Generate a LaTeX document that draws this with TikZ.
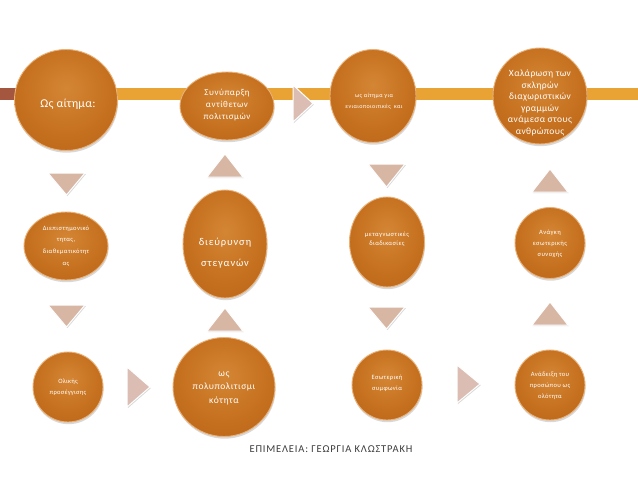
\documentclass[tikz,border=0pt]{standalone}
\usepackage{fontspec}
\setmainfont{Carlito}
\usetikzlibrary{shadows,shapes.geometric}
\definecolor{orbin}{HTML}{D48634}
\definecolor{orbmid}{HTML}{C5701E}
\definecolor{orbout}{HTML}{B66118}
\definecolor{orbedge}{HTML}{E9B27A}
\definecolor{bandcol}{HTML}{E9A234}
\definecolor{banddark}{HTML}{A4563E}
\definecolor{tricol}{HTML}{D8B6A4}
\definecolor{rtricol}{HTML}{DBBDB3}
\definecolor{foot}{HTML}{3C3C3C}
\pgfdeclareradialshading{orb}{\pgfpoint{0bp}{6bp}}{color(0bp)=(orbin); color(22bp)=(orbmid); color(44bp)=(orbout); color(50bp)=(orbout); color(100bp)=(orbout)}
\newcommand{\fsz}[3]{\fontsize{#1}{#2}\selectfont\addfontfeatures{LetterSpace=#3}}
\tikzset{
  orb/.style={ellipse, shading=orb, draw=orbedge, line width=0.9pt, inner sep=0pt,
    drop shadow={opacity=0.3, shadow xshift=0.6pt, shadow yshift=-2.2pt}},
  orbtext/.style={text=white, align=center, inner sep=0pt},
  tri/.style={fill=tricol, draw=white, line width=1pt,
    drop shadow={opacity=0.3, shadow xshift=0.8pt, shadow yshift=-1.2pt}},
  rtri/.style={fill=rtricol, draw=white, line width=1pt,
    drop shadow={opacity=0.3, shadow xshift=0.8pt, shadow yshift=-1.2pt}},
}
\begin{document}
\begin{tikzpicture}[x=1pt,y=-1pt]
\useasboundingbox (0,0) rectangle (638,479);
\fill[white] (0,0) rectangle (638,479);
% band
\fill[bandcol] (30,88) rectangle (638,100);
\fill[banddark] (0,88) rectangle (30,100);

% row 1
\node[orb, minimum width=103pt, minimum height=101pt] (c1) at (66,100) {};
\node[orbtext, font={\fsz{12}{14}{2}}] (c1t) at (68,104) {Ως αίτημα:};
\node[orb, minimum width=94pt, minimum height=68pt] (c2) at (227,106) {};
\node[orbtext, font={\fsz{9}{12}{6}}] (c2t) at (227,105) {Συνύπαρξη\\αντίθετων\\πολιτισμών};
\node[orb, minimum width=86pt, minimum height=93pt] (c3) at (373,96) {};
\node[orbtext, font={\fsz{6}{11}{6}}] (c3t) at (374,101) {ως αίτημα για\\ενιαιοποιοιτικές\ \ και};
\node[orb, minimum width=94pt, minimum height=96pt] (c4) at (540,96) {};
\node[orbtext, font={\fsz{9.5}{11.6}{4}}] (c4t) at (540,103) {Χαλάρωση των\\σκληρών\\διαχωριστικών\\γραμμών\\ανάμεσα στους\\ανθρώπους};

% row 2
\node[orb, minimum width=84pt, minimum height=68pt] (d1) at (66,246) {};
\node[orbtext, font={\fsz{6.5}{11.6}{6}}] (d1t) at (66,246) {Διεπιστημονικό\\τητας,\\διαθεματικότητ\\ας};
\node[orb, minimum width=84pt, minimum height=108pt] (d2) at (225,244) {};
\node[orbtext, font={\fsz{10.5}{21}{8}}] (d2t) at (225,253) {διεύρυνση\\στεγανών};
\node[orb, minimum width=75pt, minimum height=90pt] (d3) at (387,242) {};
\node[orbtext, font={\fsz{6.5}{9}{6}}] (d3t) at (387,239) {μεταγνωστικές\\διαδικασίες};
\node[orb, minimum width=70pt, minimum height=71pt] (d4) at (550,243) {};
\node[orbtext, font={\fsz{6.5}{11}{6}}] (d4t) at (550,244) {Ανάγκη\\εσωτερικής\\συνοχής};

% row 3
\node[orb, minimum width=70pt, minimum height=70pt] (e1) at (68,387) {};
\node[orbtext, font={\fsz{6.5}{11}{4}}] (e1t) at (e1) {Ολικής\\προσέγγισης};
\node[orb, minimum width=102pt, minimum height=99pt] (e2) at (224,387) {};
\node[orbtext, font={\fsz{9.5}{13.5}{6}}] (e2t) at (224,388) {ως\\πολυπολιτισμι\\κότητα};
\node[orb, minimum width=70pt, minimum height=70pt] (e3) at (387,385) {};
\node[orbtext, font={\fsz{6.5}{11}{5}}] (e3t) at (387,383) {Εσωτερική\\συμφωνία};
\node[orb, minimum width=70pt, minimum height=70pt] (e4) at (550,385) {};
\node[orbtext, font={\fsz{6.5}{11}{5}}] (e4t) at (550,386) {Ανάδειξη του\\προσώπου ως\\ολότητα};

% vertical triangles (down / up)
\path[tri] (48,173) -- (85,173) -- (66.5,195) -- cycle;
\path[tri] (207,177) -- (243,177) -- (225,154) -- cycle;
\path[tri] (368,164) -- (405,164) -- (386.5,187) -- cycle;
\path[tri] (532,192) -- (568,192) -- (550,169) -- cycle;
\path[tri] (48,305) -- (85,305) -- (66.5,327) -- cycle;
\path[tri] (207,331) -- (243,331) -- (225,308) -- cycle;
\path[tri] (368,307) -- (405,307) -- (386.5,329) -- cycle;
\path[tri] (532,325) -- (568,325) -- (550,302) -- cycle;

% horizontal triangles
\path[rtri] (293,85) -- (293,122) -- (313,103.5) -- cycle;
\path[rtri] (127,367) -- (127,407) -- (150,387) -- cycle;
\path[rtri] (457,365) -- (457,403) -- (480,384) -- cycle;

% footer
\node[text=foot, inner sep=0pt, font={\fsz{10.5}{12}{8}}] (foot) at (331,449) {ΕΠΙΜΕΛΕΙΑ: ΓΕΩΡΓΙΑ ΚΛΩΣΤΡΑΚΗ};
\end{tikzpicture}
\end{document}
